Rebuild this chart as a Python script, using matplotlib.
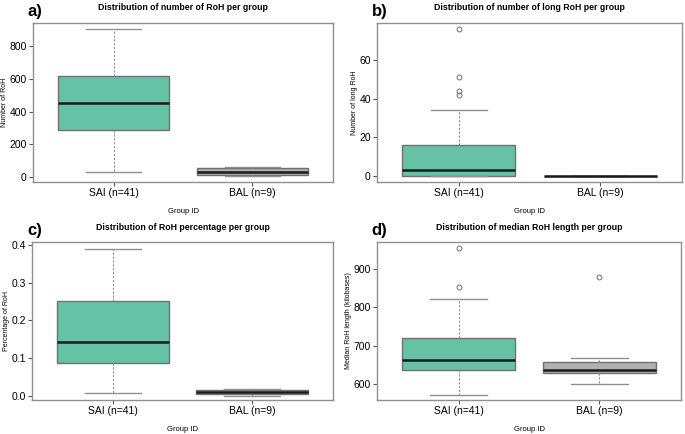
import matplotlib
matplotlib.use("Agg")
import matplotlib.pyplot as plt

plt.rcParams['font.family'] = ['Liberation Sans', 'DejaVu Sans']

groups = ["SAI (n=41)", "BAL (n=9)"]
box_colors = ["#66c2a5", "#b0b0b0"]

# a) number of RoH : (low whisker, q1, median, q3, high whisker)
roh_n = [(32, 288, 455, 618, 905), (5, 14, 30, 52, 60)]
roh_n_out = [[], []]
# b) number of long RoH
long_n = [(0, 0, 3, 16, 34), (0, 0, 0, 0, 0)]
long_n_out = [[76, 51, 44, 42], []]
# c) RoH percentage
roh_pct = [(0.008, 0.087, 0.142, 0.252, 0.390), (0.0, 0.004, 0.009, 0.016, 0.019)]
roh_pct_out = [[], []]
# d) median RoH length (kb)
roh_len = [(573, 637, 663, 721, 821), (600, 630, 638, 657, 667)]
roh_len_out = [[954, 851], [877]]

panels = [
    ("a)", "Distribution of number of RoH per group", "Number of RoH",
     roh_n, roh_n_out, (-31, 943), [0, 200, 400, 600, 800], "{:.0f}"),
    ("b)", "Distribution of number of long RoH per group", "Number of long RoH",
     long_n, long_n_out, (-3.1, 79.2), [0, 20, 40, 60], "{:.0f}"),
    ("c)", "Distribution of RoH percentage per group", "Percentage of RoH",
     roh_pct, roh_pct_out, (-0.0115, 0.408), [0.0, 0.1, 0.2, 0.3, 0.4], "{:.1f}"),
    ("d)", "Distribution of median RoH length per group", "Median RoH length (kilobases)",
     roh_len, roh_len_out, (559, 969), [600, 700, 800, 900], "{:.0f}"),
]

W, H = 685, 434
fig = plt.figure(figsize=(W / 100, H / 100), dpi=100)
boxes_px = [(33, 23, 333, 182), (377, 23, 682, 182),
            (32, 242, 333, 400), (377, 242, 681, 400)]

edge = "#707070"
for (letter, title, ylab, stats, outs, ylim, yt, fmt), (x0, y0, x1, y1) in zip(panels, boxes_px):
    ax = fig.add_axes([x0 / W, 1 - y1 / H, (x1 - x0) / W, (y1 - y0) / H])
    bstats = []
    for (lo, q1, med, q3, hi), fl in zip(stats, outs):
        bstats.append(dict(whislo=lo, q1=q1, med=med, q3=q3, whishi=hi, fliers=fl))
    res = ax.bxp(bstats, positions=[1, 2], widths=0.8, patch_artist=True,
                 boxprops=dict(edgecolor=edge, linewidth=1.0),
                 medianprops=dict(color="#1a1a1a", linewidth=1.8),
                 whiskerprops=dict(color="#909090", linestyle=(0, (2, 1.5)), linewidth=0.8),
                 capprops=dict(color="#909090", linewidth=1.0),
                 flierprops=dict(marker="o", markersize=3.5, markerfacecolor="none",
                                 markeredgecolor="#707070", markeredgewidth=0.7))
    for patch, c in zip(res["boxes"], box_colors):
        patch.set_facecolor(c)
    ax.set_xlim(0.42, 2.58)
    ax.set_ylim(*ylim)
    ax.set_xticks([1, 2])
    ax.set_xticklabels(groups, fontsize=7.5)
    ax.set_yticks(yt)
    ax.set_yticklabels([fmt.format(v) for v in yt], fontsize=7.5)
    ax.tick_params(length=3, color="#555555", pad=1.5)
    for s in ax.spines.values():
        s.set_color("#909090")
        s.set_linewidth(1.0)
    ax.set_ylabel(ylab, fontsize=5, labelpad=1)
    ax.set_xlabel("Group ID", fontsize=5.5, labelpad=7)
    ax.set_title(title, fontsize=6.3, fontweight="bold", pad=9)
    ax.text(-0.017, 1.075, letter, transform=ax.transAxes, fontsize=12,
            fontweight="bold", ha="left", va="center")

fig.savefig("out.png", dpi=100)
